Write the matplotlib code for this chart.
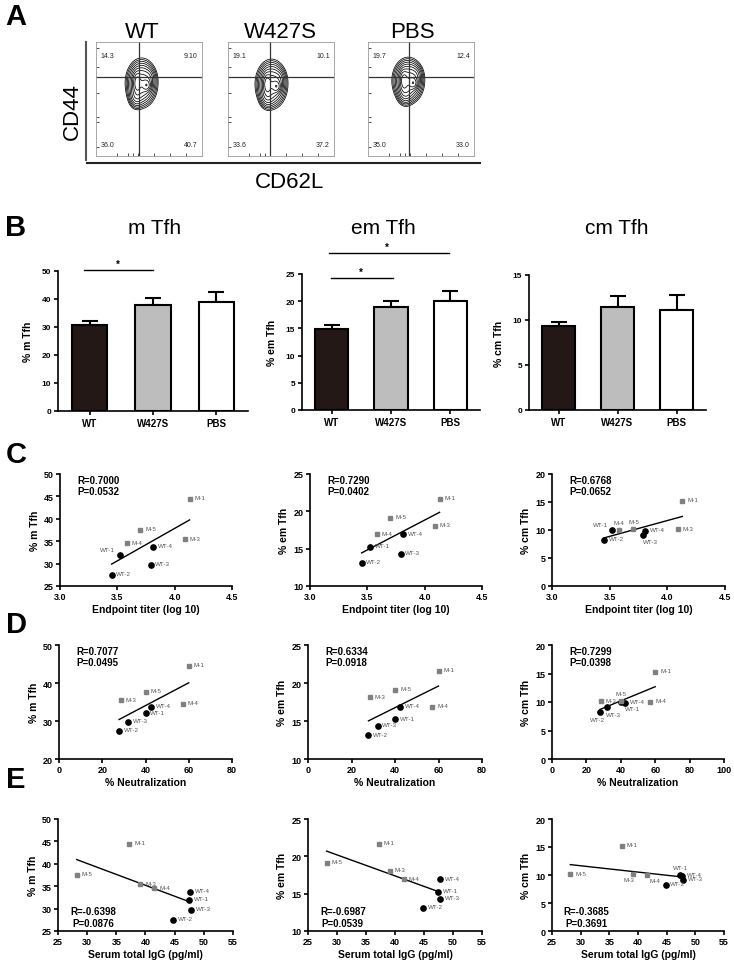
import numpy as np
import matplotlib
matplotlib.use('Agg')
import matplotlib.pyplot as plt
from matplotlib.lines import Line2D

plt.rcParams['font.family'] = ['Liberation Sans', 'DejaVu Sans']

# ------------------------------------------------------------------ data
groups = ['WT', 'W427S', 'PBS']
flow_q_tl = ['14.3', '19.1', '19.7']
flow_q_tr = ['9.10', '10.1', '12.4']
flow_q_bl = ['36.0', '33.6', '35.0']
flow_q_br = ['40.7', '37.2', '33.0']

mtfh_mean = [30.7, 37.9, 39.0]
mtfh_err = [1.4, 2.5, 3.5]
emtfh_mean = [14.9, 19.0, 20.1]
emtfh_err = [0.8, 1.0, 1.8]
cmtfh_mean = [9.3, 11.4, 11.1]
cmtfh_err = [0.5, 1.3, 1.7]

mice = ['WT-1', 'WT-2', 'WT-3', 'WT-4', 'M-1', 'M-3', 'M-4', 'M-5']
m_tfh = [32.0, 27.5, 29.7, 33.8, 44.4, 35.4, 34.5, 37.6]
em_tfh = [15.2, 13.1, 14.3, 16.9, 21.6, 18.1, 16.9, 19.1]
cm_tfh = [10.0, 8.2, 9.1, 9.9, 15.2, 10.1, 10.0, 10.1]
endpoint_titer = [3.52, 3.45, 3.79, 3.81, 4.13, 4.09, 3.58, 3.70]
neutralization = [40.0, 27.8, 32.0, 42.5, 60.0, 28.5, 57.2, 40.2]
serum_igg = [47.4, 44.8, 47.8, 47.7, 37.2, 39.1, 41.5, 28.2]

r_titer = ['R=0.7000', 'R=0.7290', 'R=0.6768']
p_titer = ['P=0.0532', 'P=0.0402', 'P=0.0652']
r_neut = ['R=0.7077', 'R=0.6334', 'R=0.7299']
p_neut = ['P=0.0495', 'P=0.0918', 'P=0.0398']
r_igg = ['R=-0.6398', 'R=-0.6987', 'R=-0.3685']
p_igg = ['P=0.0876', 'P=0.0539', 'P=0.3691']

# ------------------------------------------------------------------ figure
W, H = 734, 962
fig = plt.figure(figsize=(W / 100, H / 100), dpi=100)


def add_ax(x0, y0, x1, y1):
    return fig.add_axes([x0 / W, 1 - y1 / H, (x1 - x0) / W, (y1 - y0) / H])


def ftext(x, y, s, **kw):
    fig.text(x / W, 1 - y / H, s, **kw)


def fline(xs, ys, **kw):
    fig.add_artist(Line2D([x / W for x in xs], [1 - y / H for y in ys], **kw))


# panel letters
for letter, (lx, ly) in zip('ABCDE', [(16, 17), (16, 228), (16, 455), (16, 625), (16, 780)]):
    ftext(lx, ly, letter, fontsize=21, fontweight='bold', ha='center', va='center')

# ------------------------------------------------------------------ panel A
flow_boxes = [(96, 43, 202, 157), (228, 43, 334, 157), (368, 43, 474, 157)]
flow_title_x = [142, 280, 412]
flow_gate_x = [0.41, 0.40, 0.39]
flow_gate_y = [0.69, 0.69, 0.69]
blob_main = [(0.43, 0.64, 0.06, 0.085), (0.41, 0.63, 0.06, 0.085), (0.38, 0.66, 0.06, 0.08)]
blob_core = [(0.48, 0.62), (0.46, 0.61), (0.43, 0.64)]
blob_tail = [(0.38, 0.52), (0.37, 0.52), (0.35, 0.55)]

gx, gy = np.meshgrid(np.linspace(0, 1, 260), np.linspace(0, 1, 260))
for k in range(3):
    ax = add_ax(*flow_boxes[k])
    cx, cy, sx, sy = blob_main[k]
    kx, ky = blob_core[k]
    tx, ty = blob_tail[k]
    Z = (np.exp(-((gx - cx) ** 2 / (2 * sx ** 2) + (gy - cy) ** 2 / (2 * sy ** 2)))
         + 0.9 * np.exp(-((gx - kx) ** 2 / (2 * 0.022 ** 2) + (gy - ky) ** 2 / (2 * 0.028 ** 2)))
         + 0.7 * np.exp(-((gx - cx + 0.045) ** 2 / (2 * 0.02 ** 2) + (gy - cy) ** 2 / (2 * 0.05 ** 2)))
         + 0.25 * np.exp(-((gx - tx) ** 2 / (2 * 0.035 ** 2) + (gy - ty) ** 2 / (2 * 0.05 ** 2)))
         + 0.15 * np.exp(-((gx - cx - 0.07) ** 2 / (2 * 0.03 ** 2) + (gy - cy - 0.05) ** 2 / (2 * 0.04 ** 2))))
    ax.contour(gx, gy, Z, levels=np.geomspace(0.035, 1.6, 10), colors='black', linewidths=0.55)
    ax.axvline(flow_gate_x[k], color='#333333', lw=0.9)
    ax.axhline(flow_gate_y[k], color='#333333', lw=0.9)
    ax.set_xlim(0, 1)
    ax.set_ylim(0, 1)
    for s in ax.spines.values():
        s.set_color('#9a9a9a')
        s.set_linewidth(0.6)
    ax.set_xticks([0.2, 0.3, 0.35, 0.4, 0.55, 0.7, 0.85])
    ax.set_yticks([0.08, 0.3, 0.34, 0.55, 0.78, 0.95])
    ax.tick_params(direction='in', length=2, width=0.6, labelleft=False, labelbottom=False, colors='#333333')
    qk = dict(fontsize=5, color='#222222', transform=ax.transAxes)
    ax.text(0.04, 0.88, flow_q_tl[k], ha='left', va='center', **qk)
    ax.text(0.96, 0.88, flow_q_tr[k], ha='right', va='center', **qk)
    ax.text(0.04, 0.1, flow_q_bl[k], ha='left', va='center', **qk)
    ax.text(0.96, 0.1, flow_q_br[k], ha='right', va='center', **qk)
    ftext(flow_title_x[k], 32, groups[k], fontsize=16, ha='center', va='center')

ftext(72, 112, 'CD44', fontsize=16, rotation=90, ha='center', va='center')
ftext(290, 182, 'CD62L', fontsize=16, ha='center', va='center')
fline([86, 86], [43, 161], color='#555555', lw=1.5)
fline([87, 480], [164, 164], color='#222222', lw=1.5)

# ------------------------------------------------------------------ panel B
bar_cols = ['#231815', '#bdbdbd', 'white']
bar_specs = [
    (58, 272, 248, 412, mtfh_mean, mtfh_err, 50, 10, 'm Tfh', '% m Tfh', 155),
    (302, 275, 480, 411, emtfh_mean, emtfh_err, 25, 5, 'em Tfh', '% em Tfh', 383),
    (529, 276, 706, 411, cmtfh_mean, cmtfh_err, 15, 5, 'cm Tfh', '% cm Tfh', 617),
]
bar_axes = []
for (x0, y0, x1, y1, means, errs, ymax, ystep, title, ylab, tx) in bar_specs:
    ax = add_ax(x0, y0, x1, y1)
    pos = np.arange(len(groups))
    ax.errorbar(pos, means, yerr=[np.zeros(len(pos)), errs], fmt='none', ecolor='black',
                elinewidth=1.5, capsize=5.5, capthick=1.5, zorder=1)
    ax.bar(pos, means, width=0.56, color=bar_cols, edgecolor='black', linewidth=1.5, zorder=2)
    ax.set_xlim(-0.5, 2.5)
    ax.set_ylim(0, ymax)
    ax.set_yticks(np.arange(0, ymax + 0.1, ystep))
    ax.set_xticks(pos)
    ax.set_xticklabels(groups, fontsize=7, fontweight='bold')
    for lbl in ax.get_yticklabels():
        lbl.set_fontsize(6)
        lbl.set_fontweight('bold')
    ax.spines[['top', 'right']].set_visible(False)
    ax.spines[['left', 'bottom']].set_linewidth(1.2)
    ax.tick_params(axis='both', length=3, width=1.2, pad=2)
    ax.set_ylabel(ylab, fontsize=7.5, fontweight='bold', labelpad=6)
    ftext(tx, 228, title, fontsize=15, ha='center', va='center')
    bar_axes.append(ax)

sig_kw = dict(color='black', lw=1.0, clip_on=False)
axm, axe, axc = bar_axes
axm.plot([-0.09, 1.0], [50.4, 50.4], **sig_kw)
axm.text(0.45, 50.6, '*', ha='center', va='bottom', fontsize=7, fontweight='bold')
axe.plot([-0.01, 1.03], [24.3, 24.3], **sig_kw)
axe.text(0.5, 24.5, '*', ha='center', va='bottom', fontsize=7, fontweight='bold')
axe.plot([-0.045, 1.98], [28.9, 28.9], **sig_kw)
axe.text(0.93, 29.1, '*', ha='center', va='bottom', fontsize=7, fontweight='bold')

# ------------------------------------------------------------------ panels C, D, E
xdata = [endpoint_titer, neutralization, serum_igg]
xlabels = ['Endpoint titer (log 10)', '% Neutralization', 'Serum total IgG (pg/ml)']
ydata = [m_tfh, em_tfh, cm_tfh]
ylabels = ['% m Tfh', '% em Tfh', '% cm Tfh']
r_txt = [r_titer, r_neut, r_igg]
p_txt = [p_titer, p_neut, p_igg]

row_y = [(475, 587), (646, 760), (820, 932)]
col_x = [[(60, 232), (310, 482), (552, 725)],
         [(59, 232), (308, 482), (552, 724)],
         [(58, 233), (308, 482), (552, 724)]]
xlims = {(0, c): (3.0, 4.5, 0.5) for c in range(3)}
xlims.update({(1, 0): (0, 80, 20), (1, 1): (0, 80, 20), (1, 2): (0, 100, 20)})
xlims.update({(2, c): (25, 55, 5) for c in range(3)})
ylims = {(0, 0): (25, 50, 5), (1, 0): (20, 50, 10), (2, 0): (25, 50, 5)}
ylims.update({(r, 1): (10, 25, 5) for r in range(3)})
ylims.update({(r, 2): (0, 20, 5) for r in range(3)})

label_adjust = {
    (0, 0): {'WT-1': (-3, 4, 'right')},
    (0, 2): {'WT-1': (-3, 4, 'right'), 'M-4': (0, 5.5, 'center'), 'M-5': (1, 6, 'center'),
             'WT-3': (0, -5, 'left')},
    (1, 2): {'M-5': (0, 6, 'center'), 'WT-2': (-2, -5, 'center'), 'WT-3': (-1, -5, 'left'),
             'WT-1': (3, -5, 'left')},
    (2, 2): {'M-3': (-3, -4, 'center'), 'M-4': (2, -4, 'left'), 'WT-1': (0, 5.5, 'center')},
}
rp_pos = {0: (0.1, 'left'), 1: (0.1, 'left'), 2: (0.2, 'center')}

for r in range(3):
    xs = np.array(xdata[r], dtype=float)
    for c in range(3):
        ys = np.array(ydata[c], dtype=float)
        x0, x1 = col_x[r][c]
        y0, y1 = row_y[r]
        ax = add_ax(x0, y0, x1, y1)
        k, b = np.polyfit(xs, ys, 1)
        xl = np.array([xs.min(), xs.max()])
        ax.plot(xl, k * xl + b, color='black', lw=1.0, zorder=2)
        adj = label_adjust.get((r, c), {})
        for i, name in enumerate(mice):
            if name.startswith('WT'):
                ax.plot(xs[i], ys[i], 'o', color='black', ms=3.8, zorder=3, clip_on=False)
            else:
                ax.plot(xs[i], ys[i], 's', color='#808080', ms=3.3, zorder=3, clip_on=False)
            dx, dy, ha = adj.get(name, (3.5, 1, 'left'))
            ax.annotate(name, (xs[i], ys[i]), xytext=(dx, dy), textcoords='offset points',
                        fontsize=4.5, color='#555555', ha=ha, va='center', zorder=4)
        xa, xb, xst = xlims[(r, c)]
        ya, yb, yst = ylims[(r, c)]
        ax.set_xlim(xa, xb)
        ax.set_ylim(ya, yb)
        ax.set_xticks(np.arange(xa, xb + xst * 0.01, xst))
        ax.set_yticks(np.arange(ya, yb + yst * 0.01, yst))
        if r == 0:
            ax.set_xticklabels(['%.1f' % v for v in np.arange(xa, xb + xst * 0.01, xst)])
        else:
            ax.set_xticklabels(['%d' % v for v in np.arange(xa, xb + xst * 0.01, xst)])
        for lbl in ax.get_xticklabels() + ax.get_yticklabels():
            lbl.set_fontsize(6.5)
            lbl.set_fontweight('bold')
        ax.spines[['top', 'right']].set_visible(False)
        ax.spines[['left', 'bottom']].set_linewidth(1.2)
        ax.tick_params(axis='both', length=3, width=1.2, pad=1.5)
        ax.set_xlabel(xlabels[r], fontsize=7.5, fontweight='bold', labelpad=2)
        ax.set_ylabel(ylabels[c], fontsize=7.5, fontweight='bold', labelpad=3)
        fx, ha = rp_pos[r]
        if r < 2:
            ax.text(fx, 0.99, r_txt[r][c] + '\n' + p_txt[r][c], transform=ax.transAxes,
                    ha=ha, va='top', fontsize=7, fontweight='bold', linespacing=1.15,
                    multialignment='left')
        else:
            ax.text(fx, 0.03, r_txt[r][c] + '\n' + p_txt[r][c], transform=ax.transAxes,
                    ha=ha, va='bottom', fontsize=7, fontweight='bold', linespacing=1.15,
                    multialignment='center')

fig.savefig('out.png', dpi=100)
